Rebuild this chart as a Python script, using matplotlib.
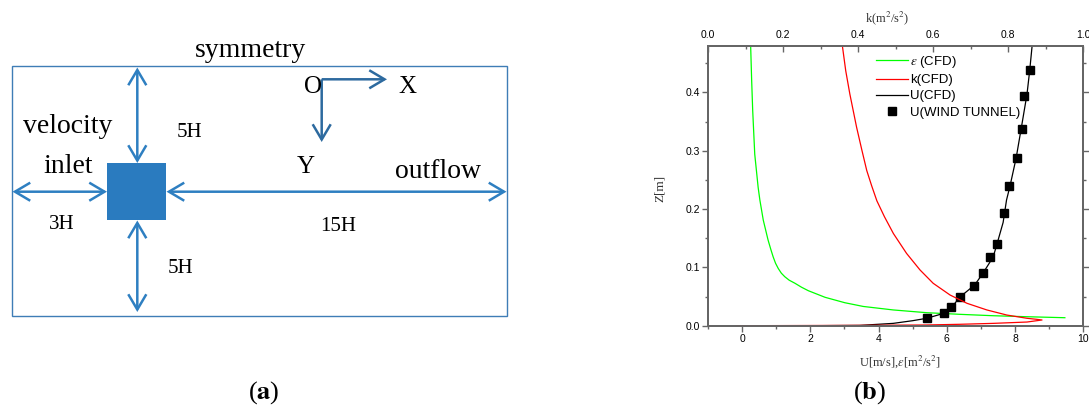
import matplotlib
matplotlib.use("Agg")
import matplotlib.pyplot as plt
from matplotlib.patches import Rectangle, FancyArrowPatch
from matplotlib.ticker import MultipleLocator

plt.rcParams['mathtext.fontset'] = 'stix'

# ---------------- profile data (panel b) ----------------
# CFD mean velocity profile U [m/s] versus height Z [m]
u_cfd = [2.0, 3.45, 4.43, 5.0, 5.41, 5.9, 6.15, 6.38, 6.82, 7.07, 7.36, 7.47,
         7.65, 7.75, 7.85, 8.03, 8.18, 8.35, 8.43, 8.5]
z_u_cfd = [0.0, 0.0005, 0.004, 0.0086, 0.0127, 0.021, 0.032, 0.049, 0.070, 0.091,
           0.118, 0.140, 0.177, 0.2155, 0.239, 0.287, 0.338, 0.397, 0.438, 0.48]

# wind tunnel measurements of U
u_wt = [5.41, 5.92, 6.11, 6.38, 6.80, 7.07, 7.26, 7.46, 7.68, 7.82, 8.05, 8.21, 8.26, 8.45]
z_wt = [0.0126, 0.021, 0.0326, 0.050, 0.068, 0.091, 0.117, 0.140, 0.193, 0.239,
        0.287, 0.338, 0.393, 0.438]

# CFD dissipation rate epsilon versus Z
eps_cfd = [0.25, 0.28, 0.31, 0.37, 0.47, 0.52, 0.62, 0.76, 0.84, 0.91, 0.98, 1.06,
           1.15, 1.25, 1.38, 1.55, 1.74, 1.94, 2.43, 3.01, 3.55, 4.43, 5.41, 6.38,
           7.36, 8.34, 9.46]
z_eps = [0.48, 0.42, 0.369, 0.294, 0.237, 0.2155, 0.181, 0.147, 0.131, 0.118, 0.107,
         0.098, 0.090, 0.084, 0.078, 0.0727, 0.066, 0.060, 0.0487, 0.0394, 0.033,
         0.027, 0.0223, 0.0195, 0.0171, 0.0154, 0.0137]

# CFD turbulent kinetic energy k [m2/s2] versus Z
k_cfd = [0.358, 0.367, 0.378, 0.396, 0.410, 0.423, 0.436, 0.450, 0.470, 0.494,
         0.529, 0.565, 0.600, 0.645, 0.690, 0.743, 0.796, 0.850, 0.875, 0.890,
         0.850, 0.760, 0.670, 0.580, 0.400, 0.200, 0.076]
z_k = [0.48, 0.437, 0.397, 0.340, 0.301, 0.266, 0.240, 0.214, 0.187, 0.158,
       0.124, 0.0955, 0.0727, 0.0526, 0.0384, 0.027, 0.0183, 0.0127, 0.011, 0.0098,
       0.0063, 0.004, 0.0024, 0.0012, 0.0006, 0.0002, 0.0]

u_ticks = [0, 2, 4, 6, 8, 10]
k_ticks = [0.0, 0.2, 0.4, 0.6, 0.8, 1.0]
z_ticks = [0.0, 0.1, 0.2, 0.3, 0.4]

W, H = 1089, 408
fig = plt.figure(figsize=(W / 100, H / 100), dpi=100)

# ---------------- panel (a): computational domain sketch ----------------
sk = fig.add_axes([0, 0, 1, 1])
sk.set_xlim(0, W)
sk.set_ylim(H, 0)
sk.axis('off')

blue = '#2E7FC1'
dark_blue = '#2D6A9F'
serif = 'Liberation Serif'

sk.add_patch(Rectangle((11.7, 66), 495.6, 249.7, fill=False, ec='#3F7DB6', lw=1.0))
sk.add_patch(Rectangle((107.3, 163.3), 58.7, 56.7, fc='#2A7BBF', ec='none'))


def dbl_arrow(p0, p1, style='<->', color=blue):
    sk.add_patch(FancyArrowPatch(p0, p1, arrowstyle=f'{style},head_length=11,head_width=6.5',
                                 mutation_scale=1, color=color, lw=1.8,
                                 shrinkA=0, shrinkB=0, joinstyle='miter', capstyle='butt'))


ycen, xcen = 191.7, 137.3
dbl_arrow((12.5, ycen), (107, ycen))
dbl_arrow((166.5, ycen), (506.5, ycen))
dbl_arrow((xcen, 67.5), (xcen, 163))
dbl_arrow((xcen, 220.5), (xcen, 312))
# coordinate system
dbl_arrow((321.7, 79.3), (387, 79.3), style='->', color=dark_blue)
dbl_arrow((321.7, 79.3), (321.7, 142), style='->', color=dark_blue)

big, mid, small = 20, 18, 15
sk.text(251, 56.7, 'symmetry', family=serif, size=big, ha='center', va='baseline')
sk.text(68, 133.3, 'velocity', family=serif, size=big, ha='center', va='baseline')
sk.text(68, 173.3, 'inlet', family=serif, size=big, ha='center', va='baseline')
sk.text(438, 178.3, 'outflow', family=serif, size=big, ha='center', va='baseline')
sk.text(189, 137.3, '5H', family=serif, size=small, ha='center', va='baseline')
sk.text(61.7, 229, '3H', family=serif, size=small, ha='center', va='baseline')
sk.text(337.7, 231, '15H', family=serif, size=small, ha='center', va='baseline')
sk.text(180.5, 272.7, '5H', family=serif, size=small, ha='center', va='baseline')
sk.text(313.3, 92.7, 'O', family=serif, size=mid, ha='center', va='baseline')
sk.text(407.3, 93.3, 'X', family=serif, size=mid, ha='center', va='baseline')
sk.text(306, 172.7, 'Y', family=serif, size=mid, ha='center', va='baseline')

sk.text(264, 393, r'($\mathbf{a}$)', family=serif, size=19, ha='center', va='center')
sk.text(870, 393, r'($\mathbf{b}$)', family=serif, size=19, ha='center', va='center')

# ---------------- panel (b): inflow profiles ----------------
x0, x1, y0, y1 = 708, 1083.3, 325.7, 45.7
ax = fig.add_axes([x0 / W, 1 - y0 / H, (x1 - x0) / W, (y0 - y1) / H])
axk = ax.twiny()

spine_c = '#666666'
tick_font = dict(family='Liberation Sans', size=7.5)

ax.plot(eps_cfd, z_eps, color='#00FF00', lw=0.9, label=r'$\varepsilon$ (CFD)')
lk, = axk.plot(k_cfd, z_k, color='#FF0000', lw=0.9, label='k(CFD)')
ax.plot(u_cfd, z_u_cfd, color='black', lw=0.9, label='U(CFD)')
ax.plot(u_wt, z_wt, ls='none', marker='s', ms=5.2, color='black', label='U(WIND TUNNEL)')

ax.set_xlim(-1, 10)
ax.set_ylim(0, 0.48)
axk.set_xlim(0, 1.0)

ax.set_xticks(u_ticks)
ax.set_yticks(z_ticks)
axk.set_xticks(k_ticks)
ax.set_xticklabels([str(v) for v in u_ticks], **tick_font)
ax.set_yticklabels([f'{v:.1f}' for v in z_ticks], **tick_font)
axk.set_xticklabels([f'{v:.1f}' for v in k_ticks], **tick_font)
ax.xaxis.set_minor_locator(MultipleLocator(1))
ax.yaxis.set_minor_locator(MultipleLocator(0.05))
axk.xaxis.set_minor_locator(MultipleLocator(0.1))

for a in (ax, axk):
    for s in a.spines.values():
        s.set_color(spine_c)
        s.set_linewidth(1.4)

ax.tick_params(axis='x', which='both', direction='out', bottom=True, top=False,
               color=spine_c, width=1.0, pad=2)
ax.tick_params(axis='y', which='both', direction='out', left=True, right=True,
               color=spine_c, width=1.0, pad=2)
ax.tick_params(which='major', length=4)
ax.tick_params(which='minor', length=2.5)
axk.tick_params(axis='x', which='both', direction='in', color=spine_c, width=1.0, pad=4)
axk.tick_params(which='major', length=4)
axk.tick_params(which='minor', length=2.5)

lab_c = '#333333'
ax.set_xlabel(r'U[m/s],$\varepsilon$[m$^2$/s$^2$]', family=serif, size=9, color=lab_c)
ax.xaxis.set_label_coords((900 - x0) / (x1 - x0), (y0 - 362) / (y0 - y1))
ax.xaxis.label.set_va('center')
ax.set_ylabel('Z[m]', family=serif, size=9.5, color=lab_c)
ax.yaxis.set_label_coords((659.5 - x0) / (x1 - x0), (y0 - 188) / (y0 - y1))
ax.yaxis.label.set_va('center')
axk.set_xlabel(r'k(m$^2$/s$^2$)', family=serif, size=9, color=lab_c)
axk.xaxis.set_label_coords((886.7 - x0) / (x1 - x0), (y0 - 18.3) / (y0 - y1))
axk.xaxis.label.set_va('center')

h, l = ax.get_legend_handles_labels()
h.insert(1, lk)
l.insert(1, lk.get_label())
leg = axk.legend(h, l, loc='upper left',
                 bbox_to_anchor=((876 - x0) / (x1 - x0), (y0 - 54) / (y0 - y1)),
                 frameon=False, borderpad=0, borderaxespad=0, handlelength=2.4,
                 handletextpad=0.15, labelspacing=0.3,
                 prop=dict(family='Liberation Sans', size=9.5))

fig.savefig('out.png', dpi=100)
